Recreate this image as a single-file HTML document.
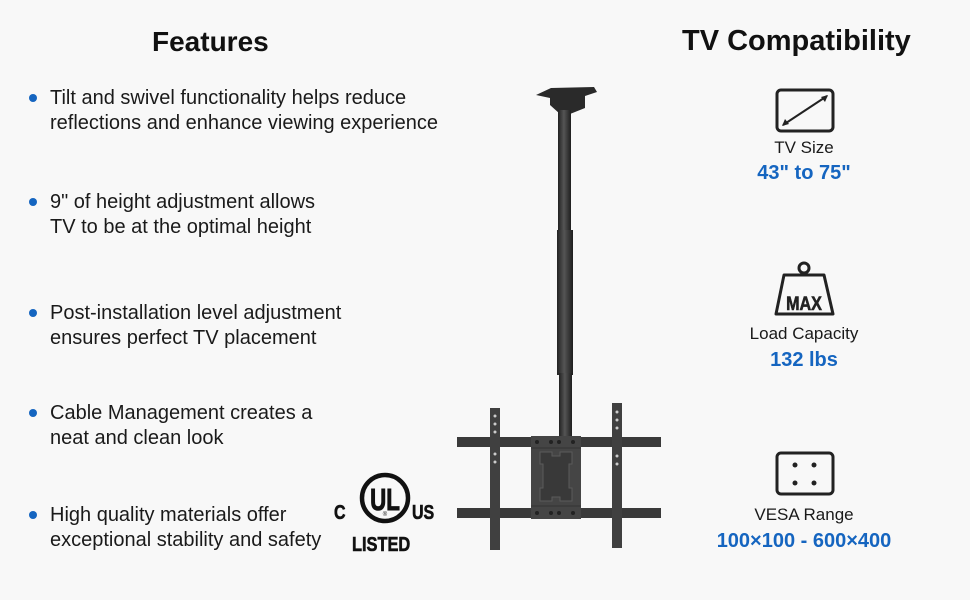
<!DOCTYPE html>
<html><head><meta charset="utf-8"><style>
html,body{margin:0;padding:0}
body{width:970px;height:600px;background:#f8f8f8;position:relative;overflow:hidden;font-family:"Liberation Sans",Arial,sans-serif;color:#111}
.t{position:absolute;font-weight:bold;font-size:28px;top:26px}
.b{position:absolute;left:50px;font-size:20px;line-height:25px;color:#1a1a1a}
.d{position:absolute;left:29px;width:8px;height:8px;border-radius:50%;background:#1565c0}
.lab{position:absolute;font-size:17px;width:200px;text-align:center;left:704px;color:#1a1a1a}
.val{position:absolute;font-size:20px;font-weight:bold;width:260px;text-align:center;left:674px;color:#1565c0}
</style></head><body>
<div class="t" style="left:152px">Features</div>
<div class="t" style="left:682px;font-size:29px;top:25px">TV Compatibility</div>

<div class="d" style="top:94px"></div><div class="b" style="top:86px">Tilt and swivel functionality helps reduce<br>reflections and enhance viewing experience</div>
<div class="d" style="top:198px"></div><div class="b" style="top:190px">9" of height adjustment allows<br>TV to be at the optimal height</div>
<div class="d" style="top:309px"></div><div class="b" style="top:301px">Post-installation level adjustment<br>ensures perfect TV placement</div>
<div class="d" style="top:409px"></div><div class="b" style="top:401px">Cable Management creates a<br>neat and clean look</div>
<div class="d" style="top:511px"></div><div class="b" style="top:503px">High quality materials offer<br>exceptional stability and safety</div>

<!-- UL logo -->
<svg style="position:absolute;left:330px;top:470px" width="110" height="90">
<circle cx="55" cy="28" r="23" fill="none" stroke="#111" stroke-width="4.5"/>
<g transform="translate(55,0) scale(0.72,1)"><text x="0" y="40" text-anchor="middle" font-family="Liberation Sans" font-weight="bold" font-size="31" fill="#111" stroke="#111" stroke-width="1">UL</text></g>
<text x="55" y="46" text-anchor="middle" font-family="Liberation Sans" font-size="6" fill="#111">®</text>
<g transform="translate(4,0) scale(0.8,1)"><text x="0" y="49" font-family="Liberation Sans" font-weight="bold" font-size="20" fill="#111" stroke="#111" stroke-width="0.6">C</text></g>
<g transform="translate(82,0) scale(0.8,1)"><text x="0" y="49" font-family="Liberation Sans" font-weight="bold" font-size="20" fill="#111" stroke="#111" stroke-width="0.6">US</text></g>
<g transform="translate(22,0) scale(0.82,1)"><text x="0" y="81" font-family="Liberation Sans" font-weight="bold" font-size="20" fill="#111" stroke="#111" stroke-width="0.6">LISTED</text></g>
</svg>

<!-- mount -->
<svg style="position:absolute;left:0;top:0" width="970" height="600">
<defs><linearGradient id="g" x1="0" x2="1"><stop offset="0" stop-color="#222"/><stop offset=".45" stop-color="#555"/><stop offset="1" stop-color="#1e1e1e"/></linearGradient></defs>
<polygon points="536,95 551,88 594,87 597,92 585,96 585,108 570,114 560,114 550,105 550,98" fill="#2a2a2a"/>
<rect x="558" y="110" width="13" height="125" fill="url(#g)"/>
<rect x="557" y="230" width="16" height="145" fill="url(#g)"/>
<rect x="559" y="373" width="13" height="65" fill="url(#g)"/>
<rect x="457" y="437" width="204" height="10" fill="#3a3a3a"/>
<rect x="457" y="508" width="204" height="10" fill="#3a3a3a"/>
<rect x="490" y="408" width="10" height="142" fill="#404040"/>
<rect x="612" y="403" width="10" height="145" fill="#404040"/>
<rect x="531" y="436" width="50" height="83" fill="#454545"/>
<path d="M540,452 h12 v4 h8 v-4 h12 v12 h-3 v24 h3 v13 h-12 v-4 h-8 v4 h-12 v-13 h3 v-24 h-3 z" fill="#393939" stroke="#5a5a5a"/>
<line x1="531" y1="448" x2="581" y2="448" stroke="#333"/><line x1="531" y1="506" x2="581" y2="506" stroke="#333"/>
<g fill="#222"><circle cx="537" cy="442" r="2"/><circle cx="551" cy="442" r="2"/><circle cx="559" cy="442" r="2"/><circle cx="573" cy="442" r="2"/><circle cx="537" cy="513" r="2"/><circle cx="551" cy="513" r="2"/><circle cx="559" cy="513" r="2"/><circle cx="573" cy="513" r="2"/></g>
<g fill="#ccc"><circle cx="495" cy="416" r="1.5"/><circle cx="495" cy="424" r="1.5"/><circle cx="495" cy="432" r="1.5"/><circle cx="495" cy="454" r="1.5"/><circle cx="495" cy="462" r="1.5"/><circle cx="617" cy="412" r="1.5"/><circle cx="617" cy="420" r="1.5"/><circle cx="617" cy="428" r="1.5"/><circle cx="617" cy="456" r="1.5"/><circle cx="617" cy="464" r="1.5"/></g>
</svg>

<!-- right icons -->
<svg style="position:absolute;left:700px;top:80px" width="200" height="480">
<rect x="77" y="10" width="56" height="41" rx="4" fill="none" stroke="#222" stroke-width="3"/>
<line x1="83" y1="45" x2="127" y2="16" stroke="#222" stroke-width="2"/>
<polygon points="82,46 85,39 89,44" fill="#222"/><polygon points="128,15 121,17 125,22" fill="#222"/>
<circle cx="104" cy="188" r="5" fill="none" stroke="#222" stroke-width="3"/>
<path d="M84,195 L124,195 L133,234 L76,234 Z" fill="none" stroke="#222" stroke-width="3" stroke-linejoin="round"/>
<g transform="translate(104,0) scale(0.85,1)"><text x="0" y="230" text-anchor="middle" font-family="Liberation Sans" font-weight="bold" font-size="19" fill="#222" stroke="#222" stroke-width="0.6">MAX</text></g>
<rect x="77" y="373" width="56" height="41" rx="4" fill="none" stroke="#222" stroke-width="3"/>
<g fill="#222"><circle cx="95" cy="385" r="2.5"/><circle cx="114" cy="385" r="2.5"/><circle cx="95" cy="403" r="2.5"/><circle cx="114" cy="403" r="2.5"/></g>
</svg>
<div class="lab" style="top:138px">TV Size</div>
<div class="val" style="top:162px">43" to 75"</div>
<div class="lab" style="top:324px">Load Capacity</div>
<div class="val" style="top:349px">132 lbs</div>
<div class="lab" style="top:505px">VESA Range</div>
<div class="val" style="top:530px">100×100 - 600×400</div>
</body></html>
